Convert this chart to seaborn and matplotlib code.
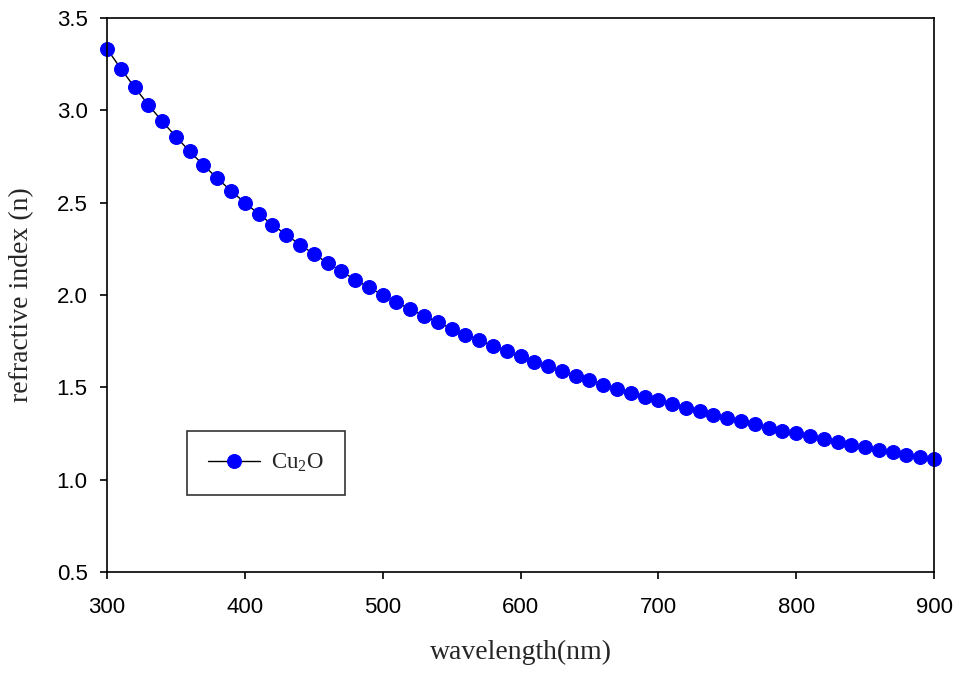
import matplotlib
matplotlib.use("Agg")
import matplotlib.pyplot as plt
import seaborn as sns
import pandas as pd

wavelength = [300, 310, 320, 330, 340, 350, 360, 370, 380, 390,
              400, 410, 420, 430, 440, 450, 460, 470, 480, 490,
              500, 510, 520, 530, 540, 550, 560, 570, 580, 590,
              600, 610, 620, 630, 640, 650, 660, 670, 680, 690,
              700, 710, 720, 730, 740, 750, 760, 770, 780, 790,
              800, 810, 820, 830, 840, 850, 860, 870, 880, 890, 900]
refractive_index = [3.333, 3.226, 3.125, 3.030, 2.941, 2.857, 2.778, 2.703, 2.632, 2.564,
                    2.500, 2.439, 2.381, 2.326, 2.273, 2.222, 2.174, 2.128, 2.083, 2.041,
                    2.000, 1.961, 1.923, 1.887, 1.852, 1.818, 1.786, 1.754, 1.724, 1.695,
                    1.667, 1.639, 1.613, 1.587, 1.563, 1.538, 1.515, 1.493, 1.471, 1.449,
                    1.429, 1.408, 1.389, 1.370, 1.351, 1.333, 1.316, 1.299, 1.282, 1.266,
                    1.250, 1.235, 1.220, 1.205, 1.190, 1.176, 1.163, 1.149, 1.136, 1.124, 1.111]
series_label = "Cu$_2$O"
x_ticks = [300, 400, 500, 600, 700, 800, 900]
y_ticks = [0.5, 1.0, 1.5, 2.0, 2.5, 3.0, 3.5]

df = pd.DataFrame({"wavelength": wavelength, "n": refractive_index})

sns.set_style("ticks")
plt.rcParams["font.family"] = ["Liberation Sans", "DejaVu Sans"]
plt.rcParams["mathtext.fontset"] = "custom"
plt.rcParams["mathtext.rm"] = "Liberation Serif"
plt.rcParams["mathtext.it"] = "Liberation Serif"

fig = plt.figure(figsize=(9.55, 6.73), dpi=100)
ax = fig.add_axes([107 / 955, 1 - 572 / 673, 827 / 955, 554 / 673])

sns.lineplot(data=df, x="wavelength", y="n", ax=ax, color="black", linewidth=1.0,
             marker="o", markersize=10, markerfacecolor="#0000ff",
             markeredgecolor="#0000ff", label=series_label, clip_on=False)

ax.set_xlim(300, 900)
ax.set_ylim(0.5, 3.5)
ax.set_xticks(x_ticks)
ax.set_yticks(y_ticks)
ax.set_yticklabels([f"{v:.1f}" for v in y_ticks])
ax.tick_params(axis="both", which="major", direction="out", length=5, width=1.2,
               labelsize=16, color="black", labelcolor="black",
               bottom=True, left=True, top=False, right=False)
ax.tick_params(axis="y", pad=9)
ax.tick_params(axis="x", pad=13)
for s in ax.spines.values():
    s.set_visible(True)
    s.set_color("black")
    s.set_linewidth(1.2)

ax.set_xlabel("wavelength(nm)", fontfamily="Liberation Serif", fontsize=20)
ax.set_ylabel("refractive index (n)", fontfamily="Liberation Serif", fontsize=20)
ax.xaxis.set_label_coords(0.5, -(640 - 572) / 554)
ax.yaxis.set_label_coords(-(107 - 34) / 827, 0.5)

leg = ax.legend(loc="lower left", bbox_to_anchor=(0.097, 0.139), borderaxespad=0,
                frameon=True, fancybox=False, edgecolor="black", borderpad=0.9,
                handlelength=2.27, handletextpad=0.5,
                prop={"family": "Liberation Serif", "size": 16.5})
leg.get_frame().set_linewidth(1.2)

fig.savefig("out.png", dpi=100)
